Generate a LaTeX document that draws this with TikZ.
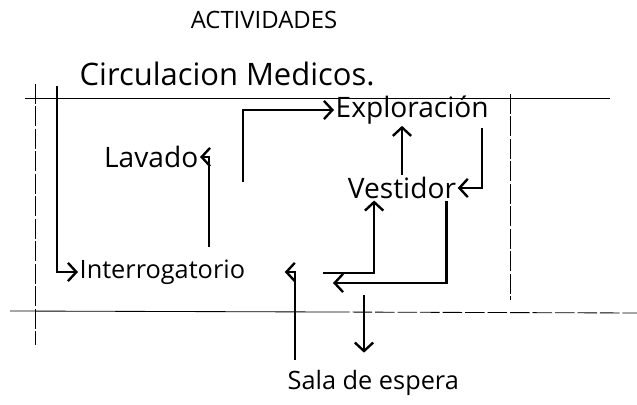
\documentclass[tikz,border=0pt]{standalone}
\usepackage{fontspec}
\setmainfont{Open Sans}
\usetikzlibrary{arrows.meta,calc}
\begin{document}
\begin{tikzpicture}[x=0.025cm,y=-0.025cm,
  lbl/.style={inner sep=1pt, font=\fontsize{20}{22}\selectfont},
  flow/.style={line width=1.7pt, -{Straight Barb[length=6pt,width=13pt]}},
  wall/.style={line width=0.6pt, dash pattern=on 14pt off 2pt}]
\useasboundingbox (0,0) rectangle (637,405);

% labels
\node[font=\fontsize{17}{19}\selectfont] (title) at (264,20) {ACTIVIDADES};
\node[lbl, anchor=west, font=\fontsize{22}{24}\selectfont] (circ) at (78,74) {Circulacion Medicos.};
\node[lbl, anchor=west] (explo) at (334,110) {Exploración};
\node[lbl, anchor=east] (lavado) at (200,157) {Lavado};
\node[lbl] (vest) at (402,188) {Vestidor};
\node[lbl, anchor=west, font=\fontsize{18}{20}\selectfont] (interr) at (78,272) {Interrogatorio};
\node[lbl, anchor=west, font=\fontsize{18}{20}\selectfont] (sala) at (286,383) {Sala de espera};

% frame
\draw[line width=0.6pt] (25,98) -- (610,98);
\draw[wall] (35,84) -- (35,345);
\draw[wall] (510,94) -- (510,300);
\draw[line width=0.6pt] (10,311) -- (330,312);
\draw[wall] (330,312) -- (637,313);

% paths
\coordinate (c0) at (57,86);
\coordinate (c1) at (209,247);
\coordinate (c2) at (243,182);
\coordinate (c3) at (482,128);
\coordinate (c4) at (323,273);
\coordinate (c5) at (333,283);
\coordinate (c6) at (364,295);
\coordinate (c7) at (295,360);

\draw[flow] (c0) |- (interr.west);
\draw[flow] (c1) |- (lavado.east);
\draw[flow] (c2) |- (explo.west);
\draw[flow] (vest.north) -- (vest.north |- explo.south);
\draw[flow] (c3) |- (vest.east);
\draw[flow] (c4) -| ($(vest.south west)!0.5!(vest.south)$);
\draw[flow] ($(vest.south)!0.8!(vest.south east)$) |- (c5);
\draw[flow] (c6) -- ($(c6 |- sala.north)+(0,-16)$);
\draw[flow] (c7) |- ($(interr.east)+(38,0)$);

\end{tikzpicture}
\end{document}
